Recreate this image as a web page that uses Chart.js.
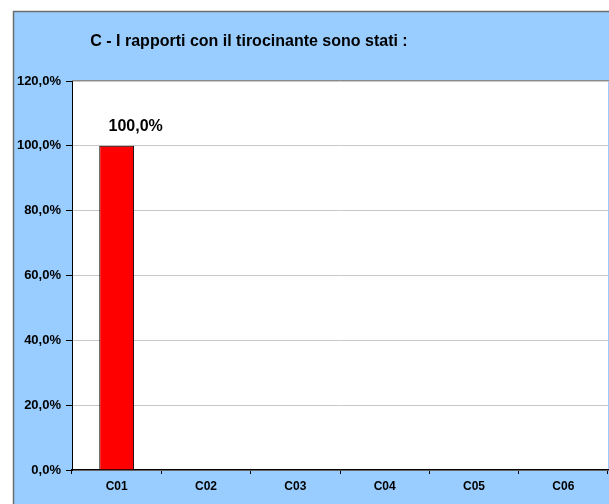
<!DOCTYPE html>
<html>
<head>
<meta charset="utf-8">
<script src="https://cdn.jsdelivr.net/npm/chart.js@4/dist/chart.umd.min.js"></script>
<style>
html, body { margin: 0; padding: 0; background: #fff; }
#wrap { width: 609px; height: 504px; }
</style>
</head>
<body>
<div id="wrap"><canvas id="chart" width="609" height="504"></canvas></div>
<script>
const categories = ["C01", "C02", "C03", "C04", "C05", "C06"];
const values = [100, null, null, null, null, null];
const titleText = "C - I rapporti con il tirocinante sono stati :";

const FONT = "'Liberation Sans', Arial, sans-serif";

function pct(v) {
    return v.toFixed(1).replace(".", ",") + "%";
}

// ---- background + frame + title + value labels ----
const framePlugin = {
    id: "frame",
    beforeDraw(chart) {
        const ctx = chart.ctx;
        const a = chart.chartArea;
        ctx.save();
        ctx.fillStyle = "#ffffff";
        ctx.fillRect(0, 0, chart.width, chart.height);
        ctx.fillStyle = "#99ccff";
        ctx.fillRect(13, 11, chart.width - 13, chart.height - 11);
        ctx.strokeStyle = "#6d6d6d";
        ctx.lineWidth = 1.5;
        ctx.beginPath();
        ctx.moveTo(13.5, chart.height);
        ctx.lineTo(13.5, 11.5);
        ctx.lineTo(chart.width, 11.5);
        ctx.stroke();
        ctx.fillStyle = "#ffffff";
        ctx.fillRect(a.left, a.top, a.right - a.left, a.bottom - a.top);
        ctx.strokeStyle = "#8a8a8a";
        ctx.lineWidth = 1;
        ctx.beginPath();
        ctx.moveTo(a.left, a.top - 0.5);
        ctx.lineTo(chart.width, a.top - 0.5);
        ctx.stroke();
        // title
        ctx.fillStyle = "#000";
        ctx.font = "bold 16px " + FONT;
        ctx.textAlign = "center";
        ctx.textBaseline = "alphabetic";
        ctx.fillText(titleText, 249, 46);
        ctx.restore();
    },
    afterDatasetsDraw(chart) {
        const ctx = chart.ctx;
        const meta = chart.getDatasetMeta(0);
        ctx.save();
        ctx.fillStyle = "#000";
        ctx.font = "bold 16px " + FONT;
        ctx.textAlign = "center";
        ctx.textBaseline = "alphabetic";
        meta.data.forEach((bar, i) => {
            if (values[i] === null) return;
            ctx.fillText(pct(values[i]), bar.x + 19, bar.y - 15);
        });
        ctx.restore();
    }
};

const ctx = document.getElementById("chart").getContext("2d");
new Chart(ctx, {
    type: "bar",
    data: {
        labels: categories,
        datasets: [{
            data: values,
            backgroundColor: "#ff0000",
            borderColor: "#000000",
            borderWidth: 1,
            categoryPercentage: 1,
            barPercentage: 0.39
        }]
    },
    options: {
        responsive: false,
        animation: false,
        events: [],
        layout: { padding: { top: 81, right: 1, left: 0, bottom: 0 } },
        plugins: {
            legend: { display: false },
            title: { display: false },
            tooltip: { enabled: false }
        },
        scales: {
            x: {
                afterFit(s) { s.height = 34; },
                grid: {
                    offset: true,
                    drawOnChartArea: false,
                    tickLength: 4,
                    tickColor: "#000"
                },
                border: { color: "#000", width: 1.5 },
                ticks: {
                    color: "#000",
                    padding: 5,
                    font: { family: FONT, size: 12, weight: "bold" }
                }
            },
            y: {
                min: 0,
                max: 120,
                afterFit(s) { s.width = 72; },
                grid: {
                    color: "#c8c8c8",
                    tickColor: "#000",
                    tickLength: 6
                },
                border: { color: "#000", width: 1 },
                ticks: {
                    stepSize: 20,
                    color: "#000",
                    padding: 5,
                    font: { family: FONT, size: 13, weight: "bold" },
                    callback: (v) => pct(v)
                }
            }
        }
    },
    plugins: [framePlugin]
});
</script>
</body>
</html>
